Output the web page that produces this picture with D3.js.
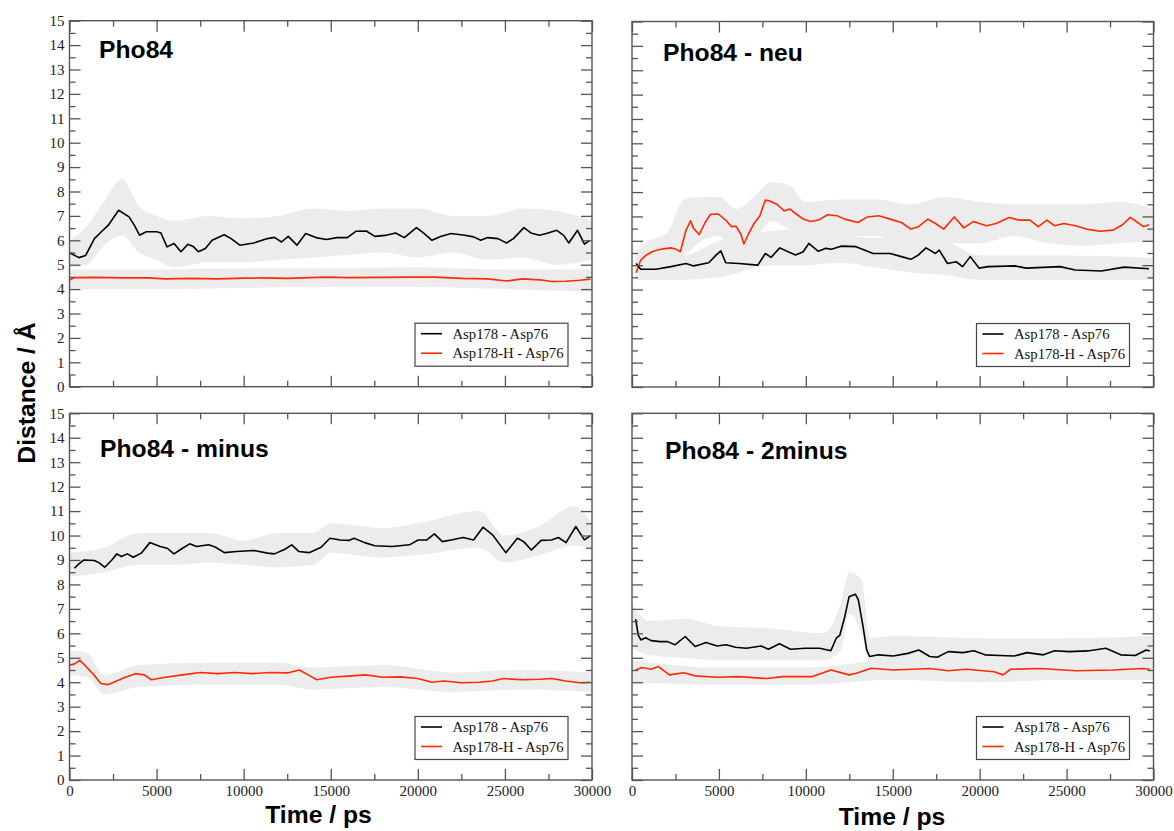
<!DOCTYPE html>
<html>
<head>
<meta charset="utf-8">
<script src="https://cdn.jsdelivr.net/npm/d3@7"></script>
<style>
body { margin: 0; background: #fff; }
</style>
</head>
<body>
<div id="chart"></div>
<script>
// ---- data ----
var seriesNames = ["Asp178 - Asp76", "Asp178-H - Asp76"];
var panelTitles = ["Pho84", "Pho84 - neu", "Pho84 - minus", "Pho84 - 2minus"];
var timeMajor = [0, 5000, 10000, 15000, 20000, 25000, 30000];
var timeMinor = [2500, 7500, 12500, 17500, 22500, 27500];
var distMajor = [0, 1, 2, 3, 4, 5, 6, 7, 8, 9, 10, 11, 12, 13, 14, 15];
var distMinor = [0.5, 1.5, 2.5, 3.5, 4.5, 5.5, 6.5, 7.5, 8.5, 9.5, 10.5, 11.5, 12.5, 13.5, 14.5];

// running averages [time ps, distance A]
var pho84Black = [[0,5.49],[540,5.29],[930,5.38],[1430,6.07],[1830,6.35],[2230,6.62],[2820,7.23],[3420,6.96],[3720,6.62],[4020,6.21],[4410,6.35],[5010,6.35],[5250,6.3],[5600,5.73],[6000,5.87],[6400,5.53],[6800,5.84],[7100,5.75],[7400,5.53],[7800,5.66],[8190,6.0],[8880,6.23],[9280,6.07],[9780,5.8],[10580,5.89],[11370,6.07],[11770,6.12],[12170,5.93],[12560,6.16],[13060,5.8],[13560,6.28],[14150,6.11],[14750,6.03],[15350,6.11],[15950,6.11],[16440,6.37],[17040,6.38],[17530,6.16],[18130,6.2],[18720,6.3],[19220,6.11],[19920,6.52],[20320,6.3],[20810,6.0],[21310,6.16],[21910,6.28],[22700,6.21],[23200,6.14],[23610,6.0],[24010,6.11],[24600,6.07],[25090,5.89],[25490,6.07],[26090,6.52],[26490,6.3],[26980,6.21],[27380,6.28],[27980,6.41],[28370,6.2],[28670,5.89],[29170,6.41],[29570,5.84],[29860,6.0]];
var pho84Red = [[0,4.37],[300,4.47],[1500,4.48],[3000,4.46],[4500,4.46],[5500,4.42],[7000,4.44],[8500,4.42],[10000,4.45],[11000,4.46],[12500,4.44],[14700,4.49],[16000,4.47],[18000,4.48],[19500,4.49],[21000,4.49],[22500,4.44],[24000,4.42],[25100,4.33],[26000,4.42],[27000,4.38],[27700,4.31],[28500,4.32],[29300,4.36],[29900,4.41]];
var neuBlack = [[240,5.07],[500,4.83],[1370,4.83],[2240,4.94],[3110,5.07],[3540,4.97],[4410,5.1],[4850,5.42],[5110,5.59],[5390,5.1],[6150,5.07],[7240,5.0],[7670,5.48],[8000,5.32],[8500,5.71],[8980,5.55],[9410,5.42],[9850,5.55],[10170,5.89],[10720,5.57],[11150,5.69],[11480,5.65],[12020,5.78],[12890,5.76],[13870,5.48],[14850,5.48],[15500,5.35],[16040,5.24],[16480,5.42],[16910,5.71],[17460,5.48],[17670,5.62],[18150,5.07],[18650,5.14],[19020,4.94],[19460,5.35],[19960,4.88],[20500,4.94],[22020,4.97],[22670,4.88],[24630,4.94],[25500,4.8],[27000,4.76],[28310,4.92],[29740,4.85]];
var neuRed = [[240,4.69],[500,5.21],[830,5.42],[1150,5.55],[1480,5.62],[1800,5.67],[2240,5.71],[2560,5.65],[2780,5.55],[3110,6.44],[3370,6.82],[3540,6.51],[3870,6.26],[4200,6.74],[4520,7.09],[4960,7.1],[5390,6.85],[5720,6.58],[5980,6.6],[6260,6.28],[6440,5.87],[6700,6.28],[7020,6.71],[7350,7.02],[7670,7.67],[7890,7.64],[8330,7.5],[8760,7.23],[9090,7.3],[9410,7.12],[9850,6.89],[10280,6.79],[10720,6.85],[11260,7.07],[11800,7.03],[12240,6.89],[13000,6.75],[13540,6.98],[14200,7.03],[14850,6.89],[15500,6.75],[16040,6.48],[16480,6.58],[17020,6.89],[17460,6.71],[17930,6.48],[18540,6.98],[19090,6.53],[19630,6.79],[20390,6.62],[20940,6.71],[21700,6.96],[22240,6.85],[22890,6.85],[23370,6.58],[23870,6.85],[24300,6.62],[24850,6.71],[25500,6.62],[26150,6.48],[26920,6.39],[27680,6.44],[28220,6.66],[28660,6.96],[29090,6.75],[29420,6.58],[29740,6.66]];
var minusBlack = [[280,8.66],[540,8.84],[835,9.0],[1430,8.98],[1730,8.87],[2030,8.7],[2430,9.0],[2720,9.25],[2980,9.14],[3320,9.25],[3660,9.11],[4120,9.28],[4610,9.71],[5210,9.55],[5610,9.48],[6000,9.25],[6400,9.44],[6900,9.66],[7300,9.55],[7990,9.62],[8390,9.52],[8890,9.3],[9580,9.35],[10580,9.39],[11370,9.28],[11770,9.25],[12370,9.44],[12760,9.62],[13160,9.35],[13760,9.3],[14450,9.52],[14950,9.89],[15550,9.82],[16040,9.8],[16340,9.89],[16940,9.71],[17530,9.58],[18530,9.55],[19520,9.62],[20020,9.82],[20520,9.82],[20950,10.07],[21410,9.75],[21910,9.82],[22600,9.92],[23200,9.82],[23740,10.34],[24290,10.03],[25050,9.3],[25720,9.89],[26080,9.75],[26520,9.41],[27080,9.8],[27670,9.82],[28070,9.92],[28510,9.71],[29070,10.37],[29560,9.82],[29900,9.99]];
var minusRed = [[0,4.7],[300,4.75],[600,4.9],[1000,4.6],[1400,4.3],[1800,3.95],[2200,3.9],[2700,4.05],[3200,4.2],[3800,4.35],[4300,4.3],[4700,4.1],[5500,4.2],[6500,4.3],[7500,4.4],[8500,4.35],[9500,4.4],[10500,4.35],[11500,4.4],[12500,4.38],[13200,4.5],[13700,4.3],[14200,4.1],[15000,4.2],[16000,4.25],[17000,4.3],[18000,4.2],[19000,4.22],[20000,4.15],[20800,4.0],[21500,4.05],[22500,3.98],[23500,4.0],[24300,4.05],[24900,4.15],[26000,4.1],[27000,4.12],[27700,4.15],[28500,4.05],[29300,3.98],[29900,4.0]];
var twoMinusBlack = [[210,6.58],[360,5.93],[510,5.73],[780,5.82],[1100,5.7],[1620,5.66],[2050,5.66],[2470,5.53],[3060,5.87],[3630,5.46],[4260,5.62],[4900,5.48],[5420,5.53],[5950,5.43],[6580,5.39],[7430,5.48],[7850,5.35],[8480,5.57],[9120,5.35],[9960,5.39],[10800,5.39],[11440,5.29],[11750,5.8],[11960,5.93],[12240,6.68],[12490,7.5],[12850,7.6],[13020,7.37],[13290,6.28],[13500,5.32],[13670,5.05],[14180,5.12],[15020,5.07],[15870,5.18],[16500,5.32],[17130,5.05],[17560,5.02],[18190,5.25],[19030,5.21],[19670,5.29],[20300,5.12],[21140,5.09],[21990,5.07],[22720,5.21],[23670,5.12],[24310,5.29],[25150,5.25],[26210,5.28],[27260,5.39],[28110,5.12],[28950,5.09],[29580,5.32],[29790,5.28]];
var twoMinusRed = [[210,4.5],[570,4.6],[1100,4.53],[1520,4.64],[2150,4.3],[3000,4.39],[3630,4.26],[4900,4.2],[6160,4.23],[7740,4.15],[8690,4.23],[10380,4.23],[11440,4.5],[12490,4.3],[12910,4.37],[13760,4.57],[15020,4.5],[17130,4.56],[18190,4.47],[19240,4.53],[20830,4.43],[21350,4.3],[21780,4.53],[23460,4.56],[25570,4.47],[27680,4.5],[29370,4.56],[29790,4.53]];

// spread of the raw traces [time ps, low, high]
var pho84BlackRaw = [[0,4.9,6.0],[1000,5.0,6.6],[2000,5.8,7.6],[3000,6.2,8.5],[4000,5.5,7.4],[5000,5.2,7.0],[6000,4.9,6.8],[8000,5.1,7.0],[10000,5.1,6.9],[12000,5.2,7.0],[14000,5.3,7.3],[16000,5.4,7.2],[18000,5.5,7.3],[20000,5.3,7.3],[22000,5.5,7.0],[24000,5.2,7.0],[26000,5.3,7.3],[28000,5.0,7.2],[30000,5.2,6.8]];
var pho84RedRaw = [[0,4.0,4.8],[5000,4.0,4.8],[10000,4.05,4.85],[15000,4.1,4.85],[20000,4.1,4.9],[25000,4.0,4.8],[30000,3.9,4.8]];
var neuBlackRaw = [[200,4.4,5.4],[3000,4.4,5.4],[5000,4.5,6.0],[8000,5.0,6.4],[10000,5.0,6.5],[12000,5.1,6.3],[14000,4.9,6.1],[16000,4.7,6.2],[18000,4.6,6.0],[20000,4.4,5.4],[25000,4.4,5.4],[30000,4.4,5.3]];
var neuRedRaw = [[200,4.5,5.5],[1000,5.0,6.0],[2000,5.1,6.3],[3000,5.4,7.7],[4000,6.0,7.8],[5000,6.2,7.8],[6000,5.5,7.3],[7000,6.0,7.8],[8000,6.8,8.4],[9000,6.5,8.3],[10000,6.2,7.6],[12000,6.2,7.7],[14000,6.2,7.7],[16000,5.8,7.5],[18000,5.9,7.8],[20000,5.9,7.6],[22000,6.2,7.5],[24000,5.9,7.5],[26000,5.8,7.5],[28000,5.9,7.6],[30000,6.0,7.3]];
var minusBlackRaw = [[0,8.3,9.3],[2000,8.5,9.5],[4000,8.8,10.1],[6000,8.8,10.1],[8000,8.9,10.1],[10000,8.8,9.8],[12000,8.7,10.1],[14000,8.8,10.1],[15000,9.3,10.5],[18000,9.1,10.3],[20000,9.2,10.5],[23500,9.5,11.0],[25000,8.9,10.0],[27000,9.2,10.4],[29000,9.6,11.2],[30000,9.4,10.5]];
var minusRedRaw = [[0,4.3,5.3],[1000,4.2,5.2],[2000,3.5,4.3],[4000,3.8,4.7],[8000,3.9,4.8],[12000,3.9,4.8],[14000,3.7,4.6],[18000,3.8,4.7],[22000,3.6,4.4],[26000,3.7,4.5],[30000,3.6,4.4]];
var twoMinusBlackRaw = [[0,5.4,7.2],[1000,5.1,6.5],[3000,5.0,6.6],[5000,4.9,6.3],[8000,4.9,6.2],[11000,4.9,6.0],[12000,5.3,7.2],[12500,6.8,8.5],[13200,6.0,8.2],[13700,4.7,5.8],[15000,4.6,5.9],[20000,4.6,5.8],[25000,4.7,5.8],[30000,4.7,5.9]];
var twoMinusRedRaw = [[0,4.0,4.9],[5000,3.9,4.6],[10000,3.9,4.6],[15000,4.1,4.9],[20000,4.0,4.9],[25000,4.1,4.9],[30000,4.1,4.9]];

// ---- layout ----
var W = 1174, H = 831;
var serif = "'Liberation Serif', 'Times New Roman', serif";
var sans = "'Liberation Sans', Arial, Helvetica, sans-serif";
var axisColor = "#555";
var rawColor = "#ececec";
var colors = ["#000000", "#ff2a00"];

var panels = [
	{ title: panelTitles[0], lines: [pho84Black, pho84Red], raw: [pho84BlackRaw, pho84RedRaw],
	  left: 69.5, right: 592, top: 20.7, bottom: 386.7, titleX: 99, titleY: 58, yLabels: true, xLabels: false },
	{ title: panelTitles[1], lines: [neuBlack, neuRed], raw: [neuBlackRaw, neuRedRaw],
	  left: 632, right: 1153.5, top: 21.5, bottom: 387, titleX: 663, titleY: 61, yLabels: false, xLabels: false },
	{ title: panelTitles[2], lines: [minusBlack, minusRed], raw: [minusBlackRaw, minusRedRaw],
	  left: 69.5, right: 592, top: 413.3, bottom: 780, titleX: 100, titleY: 456.5, yLabels: true, xLabels: true },
	{ title: panelTitles[3], lines: [twoMinusBlack, twoMinusRed], raw: [twoMinusBlackRaw, twoMinusRedRaw],
	  left: 632, right: 1153.5, top: 413.3, bottom: 780, titleX: 665, titleY: 459, yLabels: false, xLabels: true }
];

var svg = d3.select("#chart").append("svg")
	.attr("width", W)
	.attr("height", H)
	.style("background", "#fff");

panels.forEach(function (p, i) {
	var x = d3.scaleLinear().domain([0, 30000]).range([p.left, p.right]);
	var y = d3.scaleLinear().domain([0, 15]).range([p.bottom, p.top]);
	var g = svg.append("g").attr("class", "panel");

	g.append("clipPath").attr("id", "clip" + i)
		.append("rect")
		.attr("x", p.left).attr("y", p.top)
		.attr("width", p.right - p.left).attr("height", p.bottom - p.top);

	var plot = g.append("g").attr("clip-path", "url(#clip" + i + ")");

	var band = d3.area()
		.x(function (d) { return x(d[0]); })
		.y0(function (d) { return y(d[1]); })
		.y1(function (d) { return y(d[2]); })
		.curve(d3.curveMonotoneX);
	p.raw.forEach(function (r) {
		plot.append("path").datum(r)
			.attr("d", band)
			.attr("fill", rawColor);
	});

	var line = d3.line()
		.x(function (d) { return x(d[0]); })
		.y(function (d) { return y(d[1]); });
	[1, 0].forEach(function (k) {
		plot.append("path").datum(p.lines[k])
			.attr("d", line)
			.attr("fill", "none")
			.attr("stroke", colors[k])
			.attr("stroke-width", 1.6)
			.attr("stroke-linejoin", "round");
	});

	// ticks all point into the frame
	function drawAxis(maker, scale, values, size, tx, ty, labels) {
		var ax = maker(scale).tickValues(values).tickSize(-size).tickPadding(5)
			.tickFormat(labels ? d3.format("d") : "");
		var a = g.append("g").attr("transform", "translate(" + tx + "," + ty + ")").call(ax);
		a.select(".domain").remove();
		a.selectAll("line").attr("stroke", axisColor).attr("stroke-width", 1.3);
		a.selectAll("text")
			.attr("font-family", serif)
			.attr("font-size", 15)
			.attr("fill", "#222");
	}
	drawAxis(d3.axisLeft, y, distMajor, 11, p.left, 0, p.yLabels);
	drawAxis(d3.axisLeft, y, distMinor, 6, p.left, 0, false);
	drawAxis(d3.axisRight, y, distMajor, 11, p.right, 0, false);
	drawAxis(d3.axisRight, y, distMinor, 6, p.right, 0, false);
	drawAxis(d3.axisBottom, x, timeMajor, 11, 0, p.bottom, p.xLabels);
	drawAxis(d3.axisBottom, x, timeMinor, 6, 0, p.bottom, false);
	drawAxis(d3.axisTop, x, timeMajor, 11, 0, p.top, false);
	drawAxis(d3.axisTop, x, timeMinor, 6, 0, p.top, false);

	g.append("rect")
		.attr("x", p.left).attr("y", p.top)
		.attr("width", p.right - p.left).attr("height", p.bottom - p.top)
		.attr("fill", "none")
		.attr("stroke", axisColor)
		.attr("stroke-width", 1.4);

	g.append("text")
		.attr("x", p.titleX).attr("y", p.titleY)
		.attr("font-family", sans)
		.attr("font-weight", "bold")
		.attr("font-size", 24.7)
		.attr("fill", "#000")
		.text(p.title);

	// legend
	var lw = 153, lh = 43;
	var legend = g.append("g")
		.attr("transform", "translate(" + (p.right - 24 - lw) + "," + (p.bottom - 20.5 - lh) + ")");
	legend.append("rect")
		.attr("width", lw).attr("height", lh)
		.attr("fill", "#fff")
		.attr("stroke", "#444")
		.attr("stroke-width", 1.2);
	seriesNames.forEach(function (name, k) {
		var ry = 10.5 + 19.5 * k;
		legend.append("line")
			.attr("x1", 6).attr("x2", 27)
			.attr("y1", ry).attr("y2", ry)
			.attr("stroke", colors[k])
			.attr("stroke-width", 1.6);
		legend.append("text")
			.attr("x", 37.5).attr("y", ry + 5)
			.attr("font-family", serif)
			.attr("font-size", 14.7)
			.attr("fill", "#111")
			.text(name);
	});
});

svg.append("text")
	.attr("x", 318.5).attr("y", 823)
	.attr("text-anchor", "middle")
	.attr("font-family", sans).attr("font-weight", "bold").attr("font-size", 24.7)
	.text("Time / ps");
svg.append("text")
	.attr("x", 892).attr("y", 825)
	.attr("text-anchor", "middle")
	.attr("font-family", sans).attr("font-weight", "bold").attr("font-size", 24.7)
	.text("Time / ps");
svg.append("text")
	.attr("transform", "translate(35,393) rotate(-90)")
	.attr("text-anchor", "middle")
	.attr("font-family", sans).attr("font-weight", "bold").attr("font-size", 24.7)
	.text("Distance / Å");
</script>
</body>
</html>
